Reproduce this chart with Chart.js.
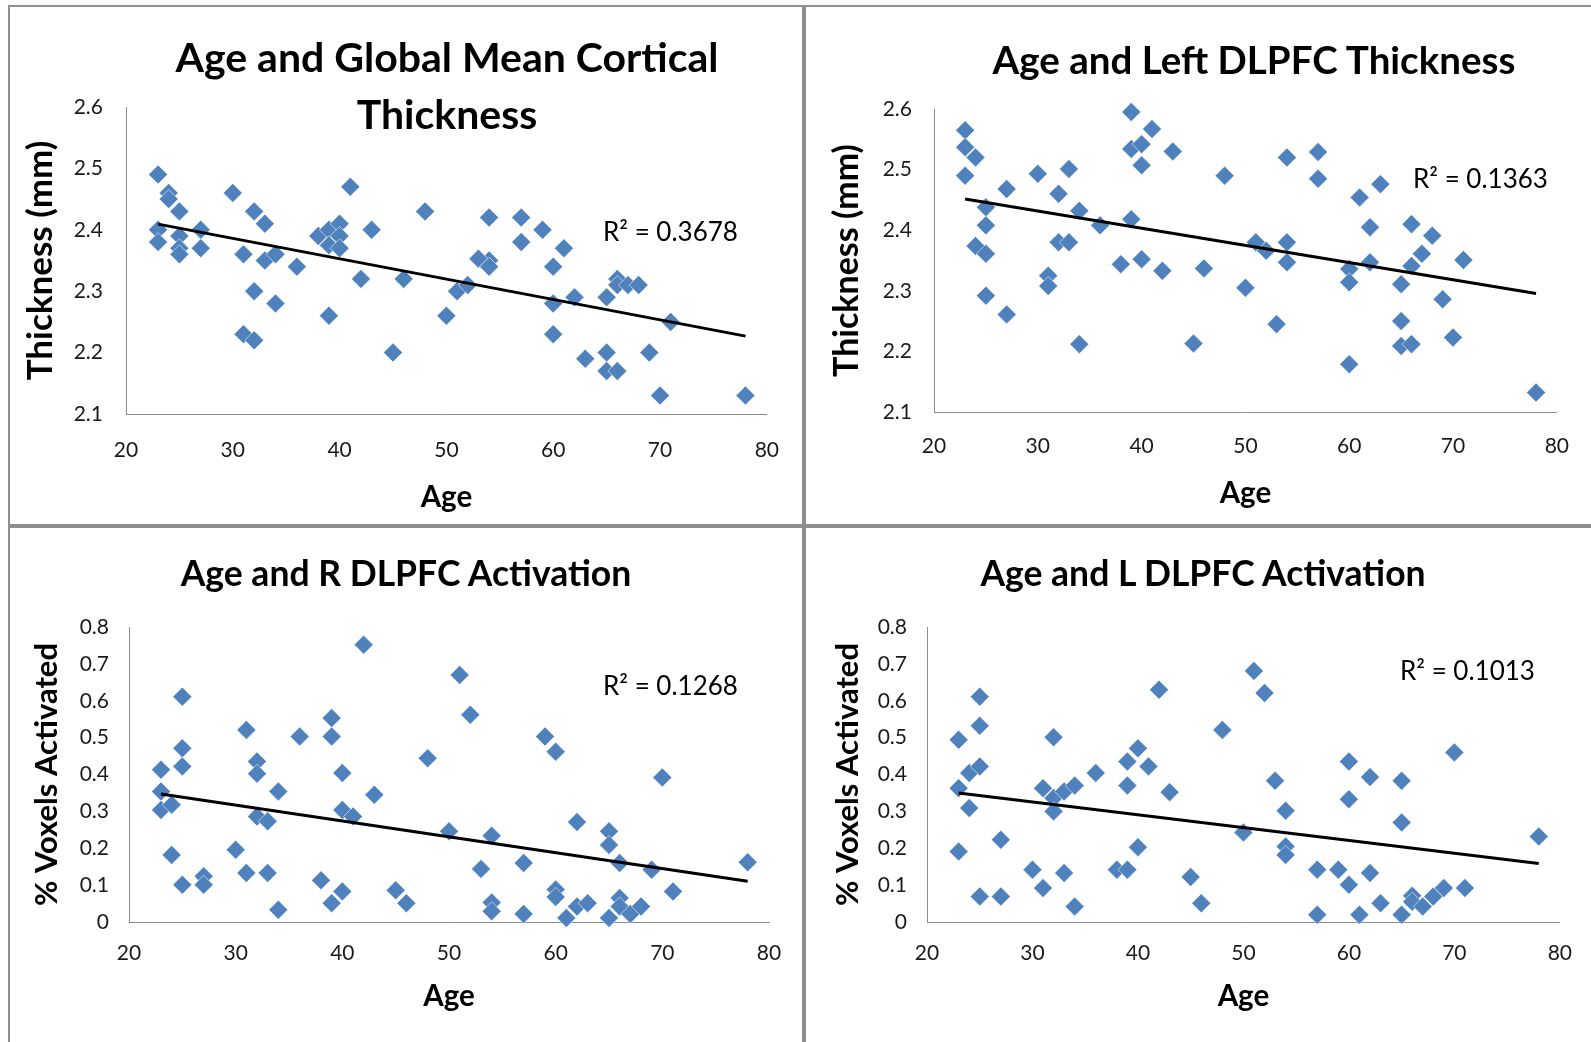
<!DOCTYPE html>
<html>
<head>
<meta charset="utf-8">
<title>Age and cortical thickness / DLPFC activation</title>
<script src="https://cdn.jsdelivr.net/npm/chart.js@4.4.1/dist/chart.umd.min.js"></script>
<style>
  html, body { margin: 0; padding: 0; background: #fff; }
  body { position: relative; width: 1591px; height: 1042px; overflow: hidden; font-family: Lato, "Open Sans", sans-serif; }
  canvas { position: absolute; }
  .line { position: absolute; background: #8f8f8f; }
  .title { position: absolute; font-weight: bold; font-size: 37px; color: #000; white-space: nowrap; transform: translate(-50%, -50%); line-height: 1; }
  .r2 { position: absolute; font-size: 26px; color: #000; white-space: nowrap; transform: translateY(-50%); line-height: 1; }
</style>
</head>
<body>
<!-- panel frames -->
<div class="line" style="left:8px;top:5px;width:1583px;height:2px"></div>
<div class="line" style="left:8px;top:5px;width:2px;height:1037px"></div>
<div class="line" style="left:802px;top:5px;width:4px;height:1037px"></div>
<div class="line" style="left:8px;top:524px;width:1583px;height:4px"></div>

<canvas id="c1" width="793" height="518" style="left:10px;top:7px"></canvas>
<canvas id="c2" width="785" height="518" style="left:806px;top:7px"></canvas>
<canvas id="c3" width="793" height="514" style="left:10px;top:528px"></canvas>
<canvas id="c4" width="785" height="514" style="left:806px;top:528px"></canvas>

<div class="title" style="left:447px;top:56px;font-size:41px">Age and Global Mean Cortical</div>
<div class="title" style="left:447px;top:113px;font-size:41px">Thickness</div>
<div class="title" style="left:1254px;top:59px;font-size:38.5px">Age and Left DLPFC Thickness</div>
<div class="title" style="left:406px;top:573px;font-size:35.5px">Age and R DLPFC Activation</div>
<div class="title" style="left:1203px;top:573px;font-size:35.5px">Age and L DLPFC Activation</div>

<div class="r2" style="left:603px;top:231px">R² = 0.3678</div>
<div class="r2" style="left:1413px;top:178px">R² = 0.1363</div>
<div class="r2" style="left:603px;top:685px">R² = 0.1268</div>
<div class="r2" style="left:1400px;top:670px">R² = 0.1013</div>

<script>
/* tick values */
const ageTicks = [20, 30, 40, 50, 60, 70, 80];
const thickTicks = [2.1, 2.2, 2.3, 2.4, 2.5, 2.6];
const voxelTicks = [0, 0.1, 0.2, 0.3, 0.4, 0.5, 0.6, 0.7, 0.8];

/* age vs global mean cortical thickness */
const globalAge = [23, 23, 23, 24, 24, 25, 25, 25, 25, 27, 27, 30, 32, 33, 31, 33, 34, 32, 34, 31, 32,
    36, 38, 39, 40, 40, 39, 40, 39, 41, 42, 43, 45, 46, 48, 50, 51, 52, 54, 54, 53, 54,
    57, 57, 59, 61, 60, 60, 60, 62, 63, 65, 65, 65, 66, 66, 66, 67, 68, 69, 70, 71, 78];
const globalThick = [2.49, 2.40, 2.38, 2.46, 2.45, 2.43, 2.39, 2.37, 2.36, 2.40, 2.37, 2.46, 2.43, 2.41, 2.36, 2.35, 2.36, 2.30, 2.28, 2.23, 2.22,
    2.34, 2.39, 2.40, 2.41, 2.39, 2.375, 2.37, 2.26, 2.47, 2.32, 2.40, 2.20, 2.32, 2.43, 2.26, 2.30, 2.31, 2.42, 2.35, 2.353, 2.34,
    2.42, 2.38, 2.40, 2.37, 2.34, 2.28, 2.23, 2.29, 2.19, 2.29, 2.20, 2.17, 2.32, 2.31, 2.17, 2.31, 2.31, 2.20, 2.13, 2.25, 2.13];

/* age vs left DLPFC thickness */
const leftAge = [23, 23, 24, 23, 27, 25, 25, 24, 25, 25, 27, 30, 32, 33, 32, 33, 31, 31, 34, 34, 36,
    39, 41, 39, 40, 40, 43, 39, 38, 40, 42, 45, 46, 48, 50, 51, 52, 54, 54, 54, 53,
    57, 57, 60, 60, 60, 61, 63, 62, 62, 65, 65, 65, 66, 66, 66, 67, 68, 69, 70, 71, 78];
const leftThick = [2.565, 2.537, 2.52, 2.49, 2.468, 2.438, 2.408, 2.374, 2.361, 2.292, 2.261, 2.493, 2.46, 2.501, 2.38, 2.38, 2.325, 2.308, 2.432, 2.212, 2.408,
    2.595, 2.567, 2.534, 2.542, 2.507, 2.53, 2.418, 2.344, 2.352, 2.333, 2.213, 2.337, 2.49, 2.305, 2.38, 2.366, 2.52, 2.38, 2.347, 2.245,
    2.529, 2.485, 2.336, 2.314, 2.179, 2.454, 2.476, 2.405, 2.347, 2.311, 2.25, 2.209, 2.41, 2.341, 2.212, 2.361, 2.391, 2.286, 2.223, 2.351, 2.132];

/* age vs right DLPFC activation */
const rightAge = [23, 23, 23, 24, 25, 25, 25, 24, 25, 27, 27, 30, 31, 31, 32, 32, 32, 33, 33, 34, 34,
    36, 38, 39, 39, 40, 40, 41, 39, 40, 42, 43, 45, 46, 48, 50, 51, 52, 53, 54, 54, 54,
    57, 57, 59, 60, 60, 60, 61, 62, 62, 63, 65, 65, 65, 66, 66, 66, 67, 68, 69, 70, 71, 78];
const rightVoxels = [0.413, 0.354, 0.304, 0.318, 0.611, 0.471, 0.422, 0.182, 0.101, 0.124, 0.101, 0.196, 0.521, 0.133, 0.435, 0.402, 0.286, 0.273, 0.133, 0.354, 0.033,
    0.503, 0.113, 0.553, 0.503, 0.404, 0.304, 0.286, 0.051, 0.083, 0.752, 0.345, 0.086, 0.051, 0.444, 0.246, 0.67, 0.562, 0.144, 0.234, 0.053, 0.029,
    0.16, 0.022, 0.503, 0.462, 0.088, 0.068, 0.011, 0.271, 0.042, 0.051, 0.246, 0.209, 0.011, 0.16, 0.065, 0.042, 0.022, 0.042, 0.142, 0.392, 0.083, 0.162];

/* age vs left DLPFC activation */
const leftActAge = [23, 23, 23, 24, 24, 25, 25, 25, 25, 27, 27, 30, 31, 31, 32, 32, 32, 33, 33, 34, 34,
    36, 38, 39, 39, 39, 40, 40, 41, 42, 43, 45, 46, 48, 50, 51, 52, 53, 54, 54, 54,
    57, 57, 59, 60, 60, 60, 61, 62, 62, 63, 65, 65, 65, 66, 66, 67, 68, 69, 70, 71, 78];
const leftVoxels = [0.494, 0.363, 0.191, 0.404, 0.309, 0.611, 0.532, 0.422, 0.069, 0.223, 0.069, 0.142, 0.363, 0.092, 0.501, 0.336, 0.30, 0.354, 0.133, 0.37, 0.042,
    0.404, 0.142, 0.435, 0.37, 0.142, 0.471, 0.203, 0.422, 0.63, 0.352, 0.122, 0.051, 0.521, 0.243, 0.681, 0.621, 0.383, 0.302, 0.205, 0.182,
    0.142, 0.02, 0.142, 0.435, 0.333, 0.101, 0.02, 0.393, 0.133, 0.051, 0.383, 0.27, 0.02, 0.071, 0.055, 0.042, 0.069, 0.092, 0.46, 0.092, 0.232];

// least squares trendline over the age range, like the spreadsheet does
function fitLine(xs, ys) {
    const n = xs.length;
    const mx = xs.reduce((a, b) => a + b, 0) / n;
    const my = ys.reduce((a, b) => a + b, 0) / n;
    let sxy = 0, sxx = 0;
    for (let i = 0; i < n; i++) {
        sxy += (xs[i] - mx) * (ys[i] - my);
        sxx += (xs[i] - mx) * (xs[i] - mx);
    }
    const slope = sxy / sxx;
    const icpt = my - slope * mx;
    const x0 = Math.min(...xs), x1 = Math.max(...xs);
    return [{ x: x0, y: icpt + slope * x0 }, { x: x1, y: icpt + slope * x1 }];
}

const panels = [
    { id: 'c1', box: { x: 10, y: 7 }, area: { l: 126, r: 768, t: 107, b: 414 },
      xs: globalAge, ys: globalThick, yTicks: thickTicks, yTitle: 'Thickness (mm)', yTitleSize: 35,
      yTitleX: 41, xTitleY: 497, yPad: 23, xPad: 24 },
    { id: 'c2', box: { x: 806, y: 7 }, area: { l: 934, r: 1563, t: 109, b: 412 },
      xs: leftAge, ys: leftThick, yTicks: thickTicks, yTitle: 'Thickness (mm)', yTitleSize: 34,
      yTitleX: 847, xTitleY: 493, yPad: 22, xPad: 22 },
    { id: 'c3', box: { x: 10, y: 528 }, area: { l: 129, r: 769, t: 627, b: 922 },
      xs: rightAge, ys: rightVoxels, yTicks: voxelTicks, yTitle: '% Voxels Activated', yTitleSize: 31,
      yTitleX: 47, xTitleY: 996, yPad: 20, xPad: 19 },
    { id: 'c4', box: { x: 806, y: 528 }, area: { l: 927, r: 1566, t: 627, b: 922 },
      xs: leftActAge, ys: leftVoxels, yTicks: voxelTicks, yTitle: '% Voxels Activated', yTitleSize: 31,
      yTitleX: 848, xTitleY: 996, yPad: 20, xPad: 19 }
];

function makeChart(p) {
    const canvas = document.getElementById(p.id);
    const w = canvas.width, h = canvas.height;
    const left = p.area.l - p.box.x;
    const right = p.area.r - p.box.x;
    const top = p.area.t - p.box.y;
    const bottom = p.area.b - p.box.y;
    const tickFont = { family: 'Lato', size: 21 };
    const xTitleFont = { family: 'Lato', size: 29.5, weight: 'bold', lineHeight: 1.2 };
    const yTitleFont = { family: 'Lato', size: p.yTitleSize, weight: 'bold', lineHeight: 1.2 };

    new Chart(canvas, {
        type: 'scatter',
        data: {
            datasets: [
                {
                    type: 'line',
                    data: fitLine(p.xs, p.ys),
                    borderColor: '#000',
                    borderWidth: 3,
                    pointRadius: 0,
                    fill: false,
                    order: 0,
                    clip: false
                },
                {
                    data: p.xs.map((x, i) => ({ x: x, y: p.ys[i] })),
                    pointStyle: 'rectRot',
                    pointRadius: 9.5,
                    backgroundColor: '#4F81BD',
                    borderColor: 'rgba(255,255,255,0.55)',
                    borderWidth: 1,
                    order: 1,
                    clip: false
                }
            ]
        },
        options: {
            responsive: false,
            animation: false,
            events: [],
            layout: { padding: { left: 0, top: top, right: w - right, bottom: 0 } },
            plugins: { legend: { display: false }, tooltip: { enabled: false } },
            scales: {
                x: {
                    type: 'linear',
                    min: 20,
                    max: 80,
                    afterBuildTicks: s => { s.ticks = ageTicks.map(v => ({ value: v })); },
                    afterFit: s => { s.height = h - bottom; },
                    grid: { display: false, drawTicks: false, tickLength: 0 },
                    border: { display: true, color: '#8c8c8c', width: 1 },
                    ticks: { padding: p.xPad, font: tickFont, color: '#1a1a1a', maxRotation: 0, autoSkip: false, callback: v => String(v) },
                    title: {
                        display: true, text: 'Age', color: '#000', font: xTitleFont,
                        padding: { top: 0, bottom: (h - (p.xTitleY - p.box.y)) - xTitleFont.size * 0.6 }
                    }
                },
                y: {
                    type: 'linear',
                    min: p.yTicks[0],
                    max: p.yTicks[p.yTicks.length - 1],
                    afterBuildTicks: s => { s.ticks = p.yTicks.map(v => ({ value: v })); },
                    afterFit: s => { s.width = left; },
                    grid: { display: false, drawTicks: false, tickLength: 0 },
                    border: { display: true, color: '#8c8c8c', width: 1 },
                    ticks: { padding: p.yPad, font: tickFont, color: '#1a1a1a', autoSkip: false, callback: v => String(v) },
                    title: {
                        display: true, text: p.yTitle, color: '#000', font: yTitleFont,
                        padding: { top: (p.yTitleX - p.box.x) - yTitleFont.size * 0.6, bottom: 0 }
                    }
                }
            }
        }
    });
}

panels.forEach(makeChart);
</script>
</body>
</html>
